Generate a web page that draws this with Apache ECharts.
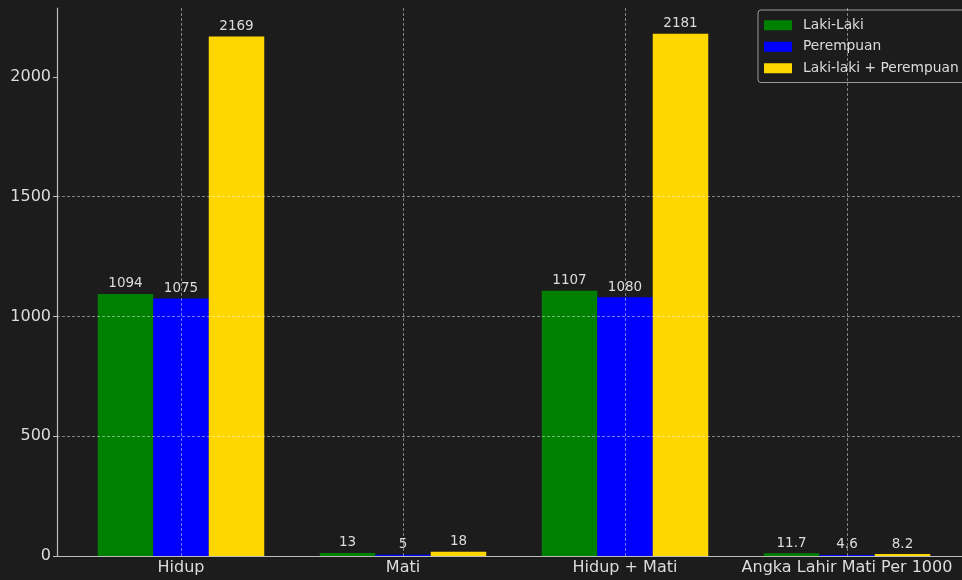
<!DOCTYPE html>
<html>
<head>
<meta charset="utf-8">
<script src="https://cdn.jsdelivr.net/npm/echarts@6/dist/echarts.min.js"></script>
<style>
html,body{margin:0;padding:0;background:#1c1c1c;}
#c{width:962px;height:580px;}
</style>
</head>
<body>
<div id="c"></div>
<script>
const categories = ['Hidup', 'Mati', 'Hidup + Mati', 'Angka Lahir Mati Per 1000'];
const lakiLaki = [1094, 13, 1107, 11.7];
const perempuan = [1075, 5, 1080, 4.6];
const total = [2169, 18, 2181, 8.2];
const seriesNames = ['Laki-Laki', 'Perempuan', 'Laki-laki + Perempuan'];
const yTicks = [0, 500, 1000, 1500, 2000];

const FONT = 'DejaVu Sans';
const TXT = '#dcdcdc';
const AX = '#bdbdbd';
const GRIDLINE = { color: 'rgba(255,255,255,0.45)', width: 1, type: [3, 2] };
const YMAX = 2288;

const chart = echarts.init(document.getElementById('c'), null, { renderer: 'canvas' });

const labelCfg = { show: true, position: 'top', distance: 3, color: TXT, fontFamily: FONT, fontSize: 13.5 };

const option = {
  backgroundColor: '#1c1c1c',
  animation: false,
  textStyle: { fontFamily: FONT },
  grid: [
    { left: 57, top: 8, width: 915, height: 548 },
    { left: 70, top: 8, width: 888, height: 548 }
  ],
  xAxis: [
    { gridIndex: 0, type: 'value', min: 0, max: 1, z: 5,
      axisLine: { show: true, lineStyle: { color: AX, width: 1.2 } },
      axisTick: { show: false }, axisLabel: { show: false }, splitLine: { show: false } },
    { gridIndex: 1, type: 'category', data: categories, z: 5,
      axisLine: { show: false },
      axisTick: { show: false, alignWithLabel: true },
      axisLabel: { color: TXT, fontFamily: FONT, fontSize: 16, margin: 4, interval: 0 },
      splitLine: { show: true, alignWithLabel: true, lineStyle: GRIDLINE } }
  ],
  yAxis: [
    { gridIndex: 0, type: 'value', min: 0, max: YMAX, interval: 500, z: 5,
      axisLine: { show: true, lineStyle: { color: AX, width: 1.2 } },
      axisTick: { show: true, length: 4, lineStyle: { color: AX }, customValues: yTicks },
      axisLabel: { color: TXT, fontFamily: FONT, fontSize: 16, margin: 6, customValues: yTicks,
        formatter: v => (yTicks.indexOf(v) >= 0 ? String(v) : '') },
      splitLine: { show: true, showMaxLine: false, lineStyle: GRIDLINE } },
    { gridIndex: 1, type: 'value', min: 0, max: YMAX, show: false, splitLine: { show: false } }
  ],
  legend: {
    orient: 'vertical', left: 758, top: 10,
    data: seriesNames,
    backgroundColor: '#1c1c1c', borderColor: '#9a9a9a', borderWidth: 1, borderRadius: 3,
    padding: [7, 10, 6, 6],
    itemWidth: 28, itemHeight: 10, itemGap: 5,
    icon: 'rect',
    textStyle: { color: TXT, fontFamily: FONT, fontSize: 13.8, lineHeight: 16.5, padding: [0, 0, 0, 6] }
  },
  series: [
    { name: seriesNames[0], type: 'bar', xAxisIndex: 1, yAxisIndex: 1, data: lakiLaki,
      itemStyle: { color: '#008000' }, barGap: '0%', barCategoryGap: '25%', label: labelCfg },
    { name: seriesNames[1], type: 'bar', xAxisIndex: 1, yAxisIndex: 1, data: perempuan,
      itemStyle: { color: '#0000ff' }, barGap: '0%', barCategoryGap: '25%', label: labelCfg },
    { name: seriesNames[2], type: 'bar', xAxisIndex: 1, yAxisIndex: 1, data: total,
      itemStyle: { color: '#ffd700' }, barGap: '0%', barCategoryGap: '25%', label: labelCfg }
  ]
};
chart.setOption(option);
</script>
</body>
</html>
